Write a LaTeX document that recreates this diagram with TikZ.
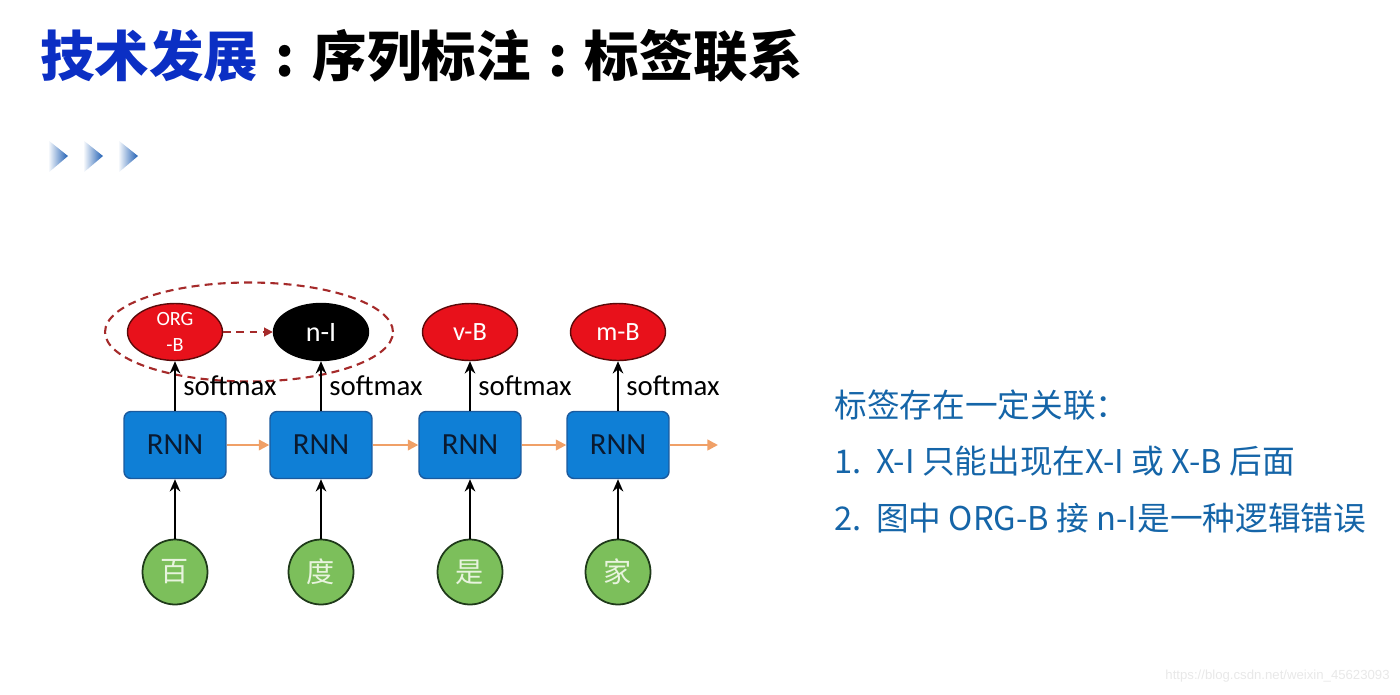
\documentclass[tikz,border=0pt]{standalone}
\usepackage{fontspec}
\setmainfont{Carlito}
\newfontfamily\cjk{Noto Sans CJK SC}
\newfontfamily\cjkheavy{Noto Sans CJK SC Black}
\newfontfamily\markfont{Liberation Sans}
\usepackage{xcolor}
\usepackage{tikz}
\usetikzlibrary{shapes.geometric, arrows.meta, positioning}

\definecolor{titleblue}{HTML}{0B2FC4}
\definecolor{chevblue}{HTML}{1F5FB4}
\definecolor{rnnblue}{HTML}{0F7FD6}
\definecolor{rnnedge}{HTML}{1A5A9E}
\definecolor{rnntext}{HTML}{0A1A30}
\definecolor{tagred}{HTML}{E8111B}
\definecolor{tagedge}{HTML}{5A0A0A}
\definecolor{wordgreen}{HTML}{7CBF5B}
\definecolor{wordedge}{HTML}{1F3A1A}
\definecolor{wordtext}{HTML}{E8F4DE}
\definecolor{linkorange}{HTML}{F0A067}
\definecolor{dashred}{HTML}{A52A2A}
\definecolor{noteblue}{HTML}{1565A8}

\newcommand{\wcolon}{\makebox[1em][c]{:}}

\begin{document}
\begin{tikzpicture}[
  x=0.02cm, y=-0.02cm,
  rnnbox/.style={rectangle, rounded corners=4pt, draw=rnnedge, fill=rnnblue, line width=0.8pt, minimum width=2.04cm, minimum height=1.34cm, text=rnntext, font=\fontsize{17.5}{17}\selectfont},
  tag/.style={ellipse, draw=tagedge, fill=tagred, line width=0.8pt, minimum width=1.9cm, minimum height=1.14cm, inner sep=0pt, text=white, font=\fontsize{15}{15}\selectfont},
  word/.style={circle, draw=wordedge, fill=wordgreen, line width=1pt, minimum size=1.3cm, inner sep=0pt, text=wordtext, font=\cjk\fontsize{16}{16}\selectfont},
  arrow/.style={-{Stealth[length=7pt, width=6pt]}, line width=1.6pt},
  link/.style={-{Triangle[length=6pt, width=6pt]}, line width=1.3pt, draw=linkorange},
  hint/.style={-{Triangle[length=5pt, width=5pt]}, line width=1pt, draw=dashred, dash pattern=on 4.5pt off 3pt},
  soft/.style={right, inner sep=4pt, font=\fontsize{16.4}{16}\selectfont},
  note/.style={anchor=west, inner sep=0pt, text=noteblue, font=\cjk\fontsize{18.6}{18}\selectfont}
]
\useasboundingbox (0,0) rectangle (1400,694);

\node[anchor=west, inner sep=0pt, font=\cjkheavy\fontsize{31}{31}\selectfont] (title) at (40,56) {\textcolor{titleblue}{技术发展}\wcolon 序列标注\wcolon 标签联系};

\foreach \x in {48,83,118}
  \shade[left color=white, right color=chevblue] (\x,140) -- (\x+20,156) -- (\x,173) -- cycle;

\node[ellipse, draw=dashred, line width=1.2pt, dash pattern=on 4.5pt off 3pt, minimum width=5.76cm, minimum height=1.98cm] (group) at (249,332) {};

\node[tag, inner sep=-3pt, align=center, font=\fontsize{11.5}{14.5}\selectfont] (orgb) at (175,332) {ORG\\-B};
\node[tag, fill=black, draw=black, font=\fontsize{16}{16}\selectfont] (ni) at (321,332) {n-I};
\node[tag] (vb) at (470,332) {v-B};
\node[tag] (mb) at (618,332) {m-B};

\node[rnnbox] (rnn1) at (175,445) {RNN};
\node[rnnbox] (rnn2) at (321,445) {RNN};
\node[rnnbox] (rnn3) at (470,445) {RNN};
\node[rnnbox] (rnn4) at (618,445) {RNN};
\coordinate (out) at (718,445);

\node[word] (w1) at (175,572) {百};
\node[word] (w2) at (321,572) {度};
\node[word] (w3) at (470,572) {是};
\node[word] (w4) at (618,572) {家};

\draw[hint] (orgb) -- (ni);

\draw[arrow] (rnn1) -- node[soft]{softmax} (orgb);
\draw[arrow] (rnn2) -- node[soft]{softmax} (ni);
\draw[arrow] (rnn3) -- node[soft]{softmax} (vb);
\draw[arrow] (rnn4) -- node[soft]{softmax} (mb);

\draw[arrow] (w1) -- (rnn1);
\draw[arrow] (w2) -- (rnn2);
\draw[arrow] (w3) -- (rnn3);
\draw[arrow] (w4) -- (rnn4);

\draw[link] (rnn1) -- (rnn2);
\draw[link] (rnn2) -- (rnn3);
\draw[link] (rnn3) -- (rnn4);
\draw[link] (rnn4) -- (out);

\node[note] (head) at (834,405) {标签存在一定关联：};
\node[note] (rule1) at (834,461) {1.\ \ X-I 只能出现在X-I 或 X-B 后面};
\node[note] (rule2) at (834,518) {2.\ \ 图中 ORG-B 接 n-I是一种逻辑错误};

\node[anchor=east, inner sep=0pt, text=black!9, font=\markfont\fontsize{7.5}{7.5}\selectfont] (mark) at (1390,676) {https://blog.csdn.net/weixin\_45623093};
\end{tikzpicture}
\end{document}
